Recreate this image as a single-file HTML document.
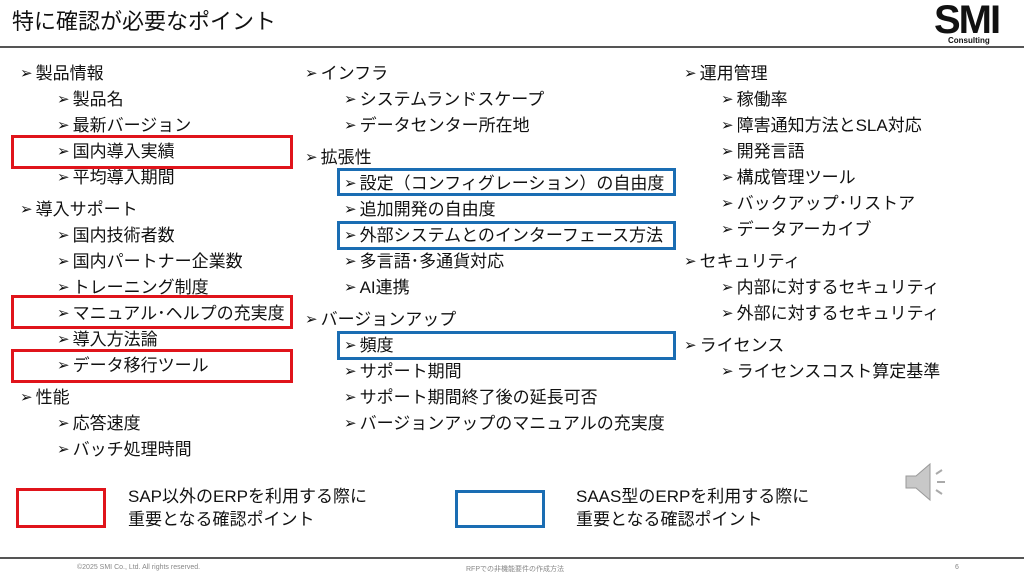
<!DOCTYPE html>
<html><head><meta charset="utf-8"><style>
body{margin:0;width:1024px;height:576px;background:#fff;position:relative;overflow:hidden;font-family:"Liberation Sans","Noto Sans CJK JP",sans-serif;color:#111}
.t{position:absolute;font-size:17px;line-height:24px;white-space:nowrap}
.t::before{content:"➢";font-size:15px;margin-right:3px;position:relative;top:-1px}
.box{position:absolute;box-sizing:border-box;border:3px solid}
.r{border-color:#e0141b}.b{border-color:#1a6db3}
</style></head><body>
<div style="position:absolute;left:12px;top:7px;font-size:22px;line-height:30px">特に確認が必要なポイント</div>
<div style="position:absolute;left:934px;top:0px;font-size:40px;font-weight:bold;line-height:40px;letter-spacing:-2px">SMI</div>
<div style="position:absolute;left:948px;top:36px;font-size:8px;font-weight:bold">Consulting</div>
<div style="position:absolute;left:0;top:46px;width:1024px;height:2px;background:#555"></div>

<div class="t" style="left:20px;top:62px">製品情報</div>
<div class="t" style="left:57px;top:88px">製品名</div>
<div class="t" style="left:57px;top:114px">最新バージョン</div>
<div class="t" style="left:57px;top:140px">国内導入実績</div>
<div class="t" style="left:57px;top:166px">平均導入期間</div>
<div class="t" style="left:20px;top:198px">導入サポート</div>
<div class="t" style="left:57px;top:224px">国内技術者数</div>
<div class="t" style="left:57px;top:250px">国内パートナー企業数</div>
<div class="t" style="left:57px;top:276px">トレーニング制度</div>
<div class="t" style="left:57px;top:302px">マニュアル･ヘルプの充実度</div>
<div class="t" style="left:57px;top:328px">導入方法論</div>
<div class="t" style="left:57px;top:354px">データ移行ツール</div>
<div class="t" style="left:20px;top:386px">性能</div>
<div class="t" style="left:57px;top:412px">応答速度</div>
<div class="t" style="left:57px;top:438px">バッチ処理時間</div>

<div class="t" style="left:305px;top:62px">インフラ</div>
<div class="t" style="left:344px;top:88px">システムランドスケープ</div>
<div class="t" style="left:344px;top:114px">データセンター所在地</div>
<div class="t" style="left:305px;top:146px">拡張性</div>
<div class="t" style="left:344px;top:172px">設定（コンフィグレーション）の自由度</div>
<div class="t" style="left:344px;top:198px">追加開発の自由度</div>
<div class="t" style="left:344px;top:224px">外部システムとのインターフェース方法</div>
<div class="t" style="left:344px;top:250px">多言語･多通貨対応</div>
<div class="t" style="left:344px;top:276px">AI連携</div>
<div class="t" style="left:305px;top:308px">バージョンアップ</div>
<div class="t" style="left:344px;top:334px">頻度</div>
<div class="t" style="left:344px;top:360px">サポート期間</div>
<div class="t" style="left:344px;top:386px">サポート期間終了後の延長可否</div>
<div class="t" style="left:344px;top:412px">バージョンアップのマニュアルの充実度</div>

<div class="t" style="left:684px;top:62px">運用管理</div>
<div class="t" style="left:721px;top:88px">稼働率</div>
<div class="t" style="left:721px;top:114px">障害通知方法とSLA対応</div>
<div class="t" style="left:721px;top:140px">開発言語</div>
<div class="t" style="left:721px;top:166px">構成管理ツール</div>
<div class="t" style="left:721px;top:192px">バックアップ･リストア</div>
<div class="t" style="left:721px;top:218px">データアーカイブ</div>
<div class="t" style="left:684px;top:250px">セキュリティ</div>
<div class="t" style="left:721px;top:276px">内部に対するセキュリティ</div>
<div class="t" style="left:721px;top:302px">外部に対するセキュリティ</div>
<div class="t" style="left:684px;top:334px">ライセンス</div>
<div class="t" style="left:721px;top:360px">ライセンスコスト算定基準</div>

<div class="box r" style="left:11px;top:135px;width:282px;height:34px"></div>
<div class="box r" style="left:11px;top:295px;width:282px;height:34px"></div>
<div class="box r" style="left:11px;top:349px;width:282px;height:34px"></div>
<div class="box b" style="left:337px;top:168px;width:339px;height:28px"></div>
<div class="box b" style="left:337px;top:221px;width:339px;height:29px"></div>
<div class="box b" style="left:337px;top:331px;width:339px;height:29px"></div>

<div class="box r" style="left:16px;top:488px;width:90px;height:40px"></div>
<div style="position:absolute;left:128px;top:485px;font-size:17px;line-height:23px">SAP以外のERPを利用する際に<br>重要となる確認ポイント</div>
<div class="box b" style="left:455px;top:490px;width:90px;height:38px"></div>
<div style="position:absolute;left:576px;top:485px;font-size:17px;line-height:23px">SAAS型のERPを利用する際に<br>重要となる確認ポイント</div>

<svg style="position:absolute;left:902px;top:460px" width="50" height="45" viewBox="0 0 50 45">
<polygon points="4,16 14,16 28,4 28,40 14,28 4,28" fill="#c8c8c8" stroke="#999" stroke-width="1"/>
<path d="M34,14 L40,10 M35,22 L43,22 M34,30 L40,34" stroke="#aaa" stroke-width="2"/>
</svg>

<div style="position:absolute;left:0;top:557px;width:1024px;height:2px;background:#555"></div>
<div style="position:absolute;left:77px;top:564px;font-size:7px;color:#888">©2025 SMI Co., Ltd. All rights reserved.</div>
<div style="position:absolute;left:466px;top:564px;font-size:7px;color:#888">RFPでの非機能要件の作成方法</div>
<div style="position:absolute;left:955px;top:564px;font-size:7px;color:#888">6</div>
</body></html>
